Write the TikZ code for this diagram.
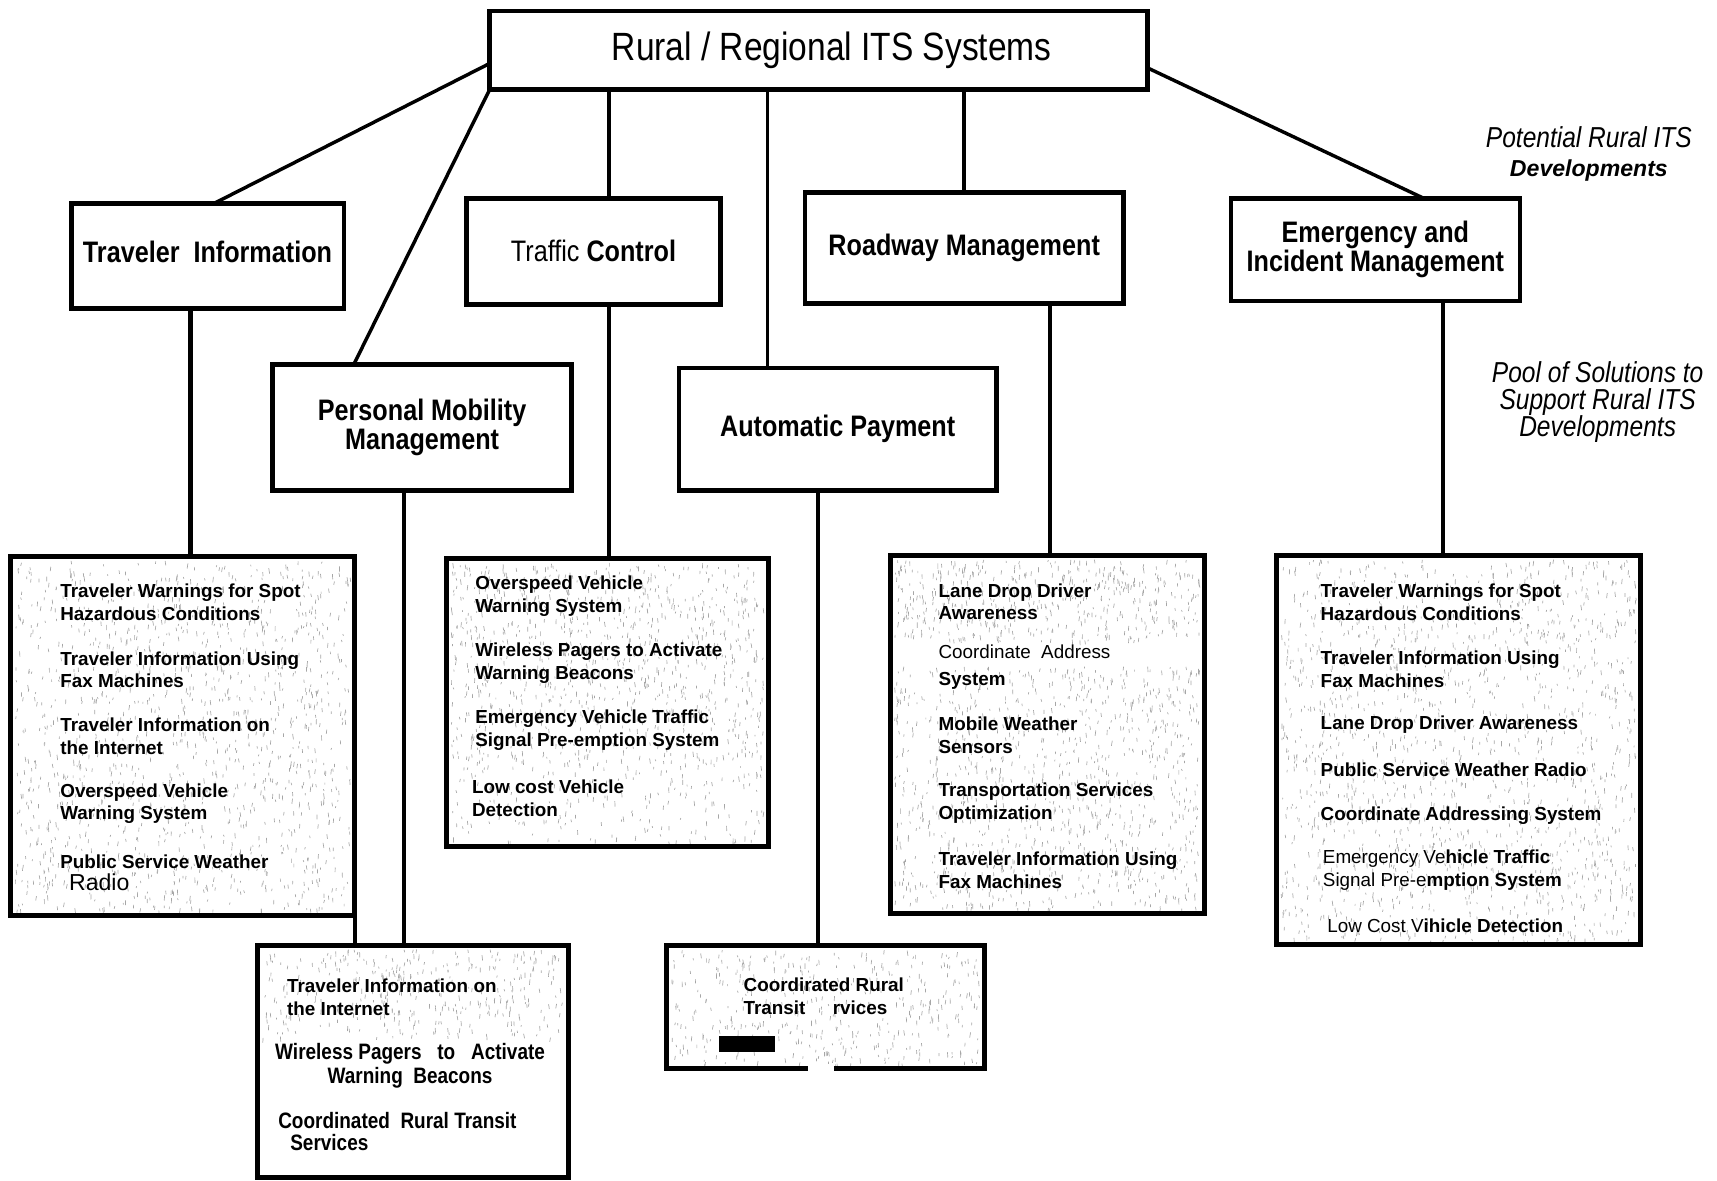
\documentclass[tikz,border=0pt]{standalone}
\usepackage{fontspec}
\setmainfont{Liberation Sans}
\newfontfamily\narrowfont[FakeStretch=0.85]{Liberation Sans}
\usetikzlibrary{positioning,calc}

\begin{document}
\begin{tikzpicture}[x=0.02cm,y=-0.02cm, line width=2.4pt
  ]
% Box and text styles
\tikzstyle{head}=[draw=black,fill=white,outer sep=0pt,align=center,font=\narrowfont\bfseries\fontsize{15.4}{15}\selectfont,text=black]
\tikzstyle{pool}=[draw=black,line width=2.6pt,outer sep=0pt,inner sep=0pt]
\tikzstyle{item}=[anchor=west,inner sep=0pt,align=left,text=black,font=\bfseries\fontsize{9.8}{11.8}\selectfont]
\tikzstyle{link}=[draw=black,line width=1.8pt]
\tikzstyle{drop}=[draw=black,line width=2.3pt]
\tikzstyle{speck}=[draw=gray!70,line width=.35pt]
\tikzstyle{note}=[align=center,inner sep=0pt,text=black,font=\narrowfont\itshape\fontsize{15}{14}\selectfont]

\useasboundingbox (0,0) rectangle (1568,1078);

% Speckled background of the solution boxes
\pgfmathsetseed{11}
\foreach \xa/\ya/\xb/\yb/\n in {14/512/320/832/1350, 412/514/698/700/950, 412/700/698/769/180, 817/511/1096/585/470, 817/608/1096/830/1000, 1170/511/1494/859/1600, 239/867/515/948/380, 613/867/895/972/440}
  \foreach \k in {1,...,\n}
    \draw[speck] ({\xa+rnd*(\xb-\xa)},{\ya+rnd*(\yb-\ya)}) -- ++({(rnd-.5)*1.6},{1.5+rnd*3.5});

% Top and category blocks
\node[head, font=\narrowfont\fontsize{20.5}{24}\selectfont, minimum width=12.02cm, minimum height=1.44cm] (top) at (747.5,46) {\hspace*{.48cm}Rural / Regional ITS Systems};
\node[head, minimum width=4.98cm, minimum height=1.92cm, text depth=.15cm] (ti) at (189.5,234) {Traveler\ \ Information};
\node[head, minimum width=4.64cm, minimum height=1.94cm] (tc) at (542,229.5) {{\mdseries Traffic} Control};
\node[head, minimum width=5.82cm, minimum height=2.02cm] (rm) at (880.5,226.5) {Roadway Management};
\node[head, minimum width=5.28cm, minimum height=1.88cm] (eim) at (1256,228) {Emergency and\\Incident Management};
\node[head, minimum width=5.46cm, minimum height=2.30cm] (pmm) at (385.5,390.5) {Personal Mobility\\Management};
\node[head, minimum width=5.80cm, minimum height=2.24cm] (ap) at (765,392) {Automatic Payment};

% Solution boxes
\node[pool, minimum width=6.28cm, minimum height=6.56cm] (til) at (167,672) {};
\node[pool, minimum width=5.88cm, minimum height=5.26cm] (tcl) at (555,641.5) {};
\node[pool, minimum width=5.74cm, minimum height=6.54cm] (rml) at (956.5,670.5) {};
\node[pool, minimum width=6.64cm, minimum height=7.12cm] (eiml) at (1332,685) {};
\node[pool, minimum width=5.68cm, minimum height=4.24cm] (pmml) at (377,969) {};
\node[pool, minimum width=5.80cm, minimum height=2.26cm] (apl) at (754,919.5) {};

% Traveler Information items
\node[item] (til1) at (53,550) {Traveler Warnings for Spot\\Hazardous Conditions};
\node[item] (til2) at (53,611.5) {Traveler Information Using\\Fax Machines};
\node[item] (til3) at (53,672.5) {Traveler Information on\\the Internet};
\node[item] (til4) at (53,734) {Overspeed Vehicle\\Warning System};
\node[item] (til5) at (53,797) {Public Service Weather\\\hspace*{.16cm}{\mdseries\fontsize{12}{11.8}\selectfont Radio}};

% Traffic Control items
\node[item] (tcl1) at (432,544.5) {Overspeed Vehicle\\Warning System};
\node[item] (tcl2) at (432,605.5) {Wireless Pagers to Activate\\Warning Beacons};
\node[item] (tcl3) at (432,667) {Emergency Vehicle Traffic\\Signal Pre-emption System};
\node[item] (tcl4) at (429,729) {Low cost Vehicle\\Detection};

% Roadway Management items
\node[item] (rml1) at (855,549.5) {Lane Drop Driver\\Awareness};
\node[item] (rml2) at (855,609) {{\mdseries Coordinate\ \ Address}\\[2pt]System};
\node[item] (rml3) at (855,671.5) {Mobile Weather\\Sensors};
\node[item] (rml4) at (855,733.5) {Transportation Services\\Optimization};
\node[item] (rml5) at (855,794.5) {Traveler Information Using\\Fax Machines};

% Emergency and Incident Management items
\node[item] (eiml1) at (1204,550) {Traveler Warnings for Spot\\Hazardous Conditions};
\node[item] (eiml2) at (1204,611) {Traveler Information Using\\Fax Machines};
\node[item] (eiml3) at (1204,662) {Lane Drop Driver Awareness};
\node[item] (eiml4) at (1204,703) {Public Service Weather Radio};
\node[item] (eiml5) at (1204,745) {Coordinate Addressing System};
\node[item] (eiml6) at (1206,794.5) {{\mdseries Emergency Ve}hicle Traffic\\{\mdseries Signal Pre-e}mption System};
\node[item] (eiml7) at (1210,845) {{\mdseries Low Cost V}ihicle Detection};

% Personal Mobility Management items
\node[item] (pmml1) at (260,910.5) {Traveler Information on\\the Internet};
\node[item, anchor=center, align=center, font=\narrowfont\bfseries\fontsize{11.6}{12.6}\selectfont] (pmml2) at (374.5,973) {Wireless Pagers\ \ \ to\ \ \ Activate\\Warning\ \ Beacons};
\node[item, font=\narrowfont\bfseries\fontsize{11.6}{11.2}\selectfont] (pmml3) at (252,1033.5) {Coordinated\ \ Rural Transit\\\hspace*{.22cm}Services};

% Automatic Payment item
\node[item] (apl1) at (677,909.5) {Coordirated Rural\\Transit\hspace{.5cm}rvices};
\fill[black] (657,946) rectangle (708,961);
\fill[white] (738,972) rectangle (762,981);

% Notes on the right
\node[note, font=\narrowfont\itshape\fontsize{15}{15.4}\selectfont] (pot) at (1451,140.5) {Potential Rural ITS\\{\normalfont\bfseries\itshape\fontsize{12}{15.4}\selectfont Developments}};
\node[note] (sol) at (1459,367) {Pool of Solutions to\\Support Rural ITS\\Developments};

% Links from the top block
\draw[link] ([yshift=.48cm]top.south west) -- ([xshift=2.6cm]ti.north west);
\draw[link] (top.south west) -- ([xshift=1.48cm]pmm.north west);
\draw[link] ([xshift=.28cm]tc.north) -- ([xshift=.28cm]tc.north |- top.south);
\draw[link] ([xshift=-1.28cm]ap.north) -- ([xshift=-1.28cm]ap.north |- top.south);
\draw[link] (rm.north) -- (rm.north |- top.south);
\draw[link] ([yshift=.4cm]top.south east) -- ([xshift=.88cm]eim.north);

% Drops to the solution boxes
\draw[drop] ([xshift=-.31cm]ti.south) -- ([xshift=-.31cm]ti.south |- til.north);
\draw[drop] ([xshift=.28cm]tc.south) -- ([xshift=.28cm]tc.south |- tcl.north);
\draw[drop] ([xshift=1.57cm]rm.south) -- ([xshift=1.57cm]rm.south |- rml.north);
\draw[drop] ([xshift=1.24cm]eim.south) -- ([xshift=1.24cm]eim.south |- eiml.north);
\draw[drop] ([xshift=-.33cm]pmm.south) -- ([xshift=-.33cm]pmm.south |- pmml.north);
\draw[drop] ([xshift=-.36cm]ap.south) -- ([xshift=-.36cm]ap.south |- apl.north);
\draw[drop] (til.south east) -- (til.south east |- pmml.north);
%---------------------
\end{tikzpicture}
\end{document}
